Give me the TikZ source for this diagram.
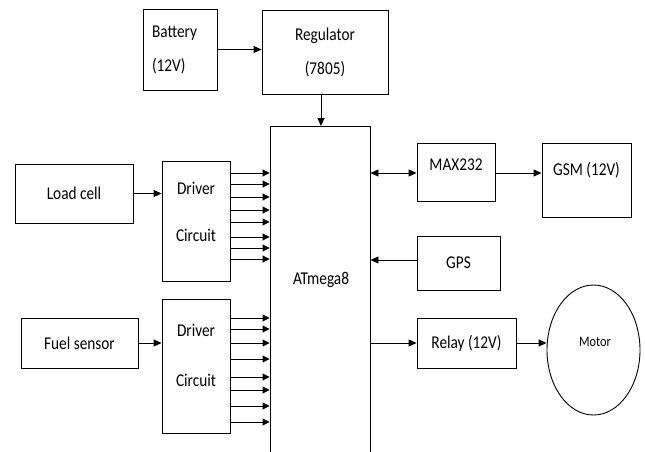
\documentclass[tikz,border=0pt]{standalone}
\usepackage{fontspec}
\setmainfont{Carlito}[FakeStretch=0.85]
\usetikzlibrary{arrows.meta,shapes.geometric}
\tikzset{
  blk/.style={draw, line width=0.9pt, inner sep=0pt, font=\fontsize{18}{18}\selectfont},
  txt/.style={inner sep=0pt, align=center, font=\fontsize{18}{18}\selectfont},
  arr/.style={-{Triangle[length=8pt,width=7pt]}, line width=0.9pt},
  pin/.style={-{Triangle[length=7pt,width=7pt]}, line width=0.9pt}
}
\begin{document}
\begin{tikzpicture}[x=1pt, y=-1pt]
\useasboundingbox (0,0) rectangle (645,452);
\node[blk, minimum width=74pt, minimum height=81pt, text width=56pt, align=left] (bat) at (180,49.5) {Battery\\[16pt](12V)};
\node[blk, minimum width=126pt, minimum height=84pt, align=center] (reg) at (325,52) {Regulator\\[16pt](7805)};
\node[blk, minimum width=100pt, minimum height=332pt] (mcu) at (320,292) {};
\node[txt] (mcut) at (321,280) {ATmega8};
\node[blk, minimum width=118pt, minimum height=59pt] (lc) at (74,193.5) {Load cell};
\node[blk, minimum width=117pt, minimum height=50pt] (fs) at (79.5,343) {Fuel sensor};
\node[blk, minimum width=68pt, minimum height=120pt] (d1) at (196,221) {};
\node[txt] (d1t) at (196,211.5) {Driver\\[29pt]Circuit};
\node[blk, minimum width=68pt, minimum height=134pt] (d2) at (196,366) {};
\node[txt] (d2t) at (196,355) {Driver\\[32pt]Circuit};
\node[blk, minimum width=78pt, minimum height=58pt] (max) at (456,172) {};
\node[txt] (maxt) at (456,165) {MAX232};
\node[blk, minimum width=89pt, minimum height=74pt] (gsm) at (586.5,180) {};
\node[txt] (gsmt) at (586.5,170) {GSM (12V)};
\node[blk, minimum width=83pt, minimum height=54pt] (gps) at (458.5,263) {GPS};
\node[blk, minimum width=99pt, minimum height=50pt] (rly) at (466.5,343) {Relay (12V)};
\node[blk, ellipse, minimum width=93pt, minimum height=130pt] (mot) at (593.5,350) {};
\node[txt, font=\fontsize{14.5}{15}\selectfont] (mott) at (595,342) {Motor};
% power
\draw[arr] (bat.east) -- (bat.east -| reg.west);
\draw[arr] (321,94) -- (321,126);
% sensors
\draw[arr] (lc.east) -- (lc.east -| d1.west);
\draw[arr] (fs.east) -- (fs.east -| d2.west);
\foreach \y in {173,184,197,210,222,237,248,259}
  \draw[pin] (d1.east |- 0,\y) -- (mcu.west |- 0,\y);
\foreach \y in {318,329,343,359,377,390,406,422}
  \draw[pin] (d2.east |- 0,\y) -- (mcu.west |- 0,\y);
% outputs
\draw[{Triangle[length=8pt,width=7pt]}-{Triangle[length=8pt,width=7pt]}, line width=0.9pt] (mcu.east |- 0,173) -- (max.west |- 0,173);
\draw[arr] (max.east |- 0,173) -- (gsm.west |- 0,173);
\draw[arr] (gps.west |- 0,260) -- (mcu.east |- 0,260);
\draw[arr] (mcu.east |- rly.west) -- (rly.west);
\draw[arr] (rly.east) -- (rly.east -| mot.west);
\end{tikzpicture}
\end{document}
